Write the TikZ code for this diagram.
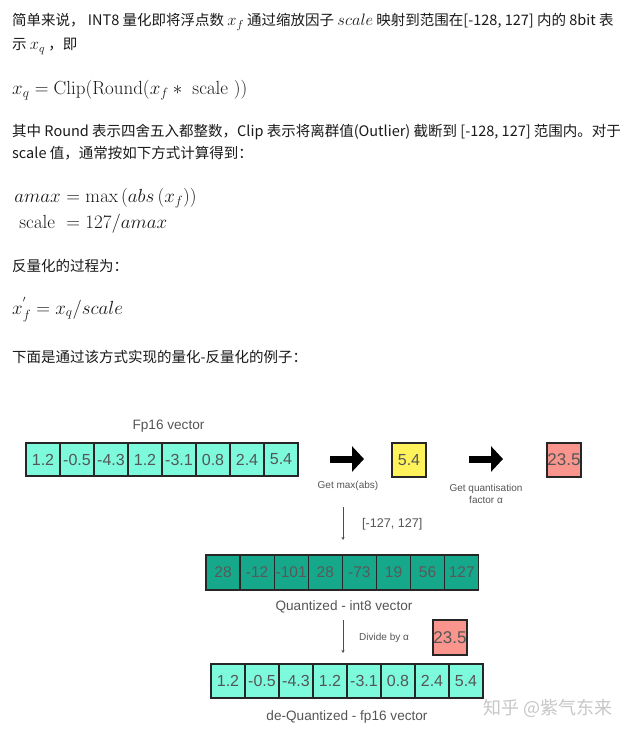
\RequirePackage{fix-cm}
\documentclass[tikz,border=0pt]{standalone}
\usepackage[no-math]{fontspec}
\usepackage{amsmath}
\newfontfamily\cjkfont{Noto Sans CJK SC}
\newfontfamily\helvfont{Liberation Sans}
\usetikzlibrary{arrows.meta}
\definecolor{aqua}{HTML}{7DF9DC}
\definecolor{ylw}{HTML}{FFF25A}
\definecolor{salmon}{HTML}{F9958D}
\definecolor{tealq}{HTML}{16A88A}
\definecolor{lbl}{HTML}{555555}
\definecolor{bodytxt}{HTML}{1A1A1A}
\newcommand\im[1]{{\fontsize{16.5}{20}\selectfont$#1$}}
\begin{document}
\begin{tikzpicture}[x=1pt,y=-1pt,
  body/.style={anchor=base west,inner sep=0pt,text=bodytxt,font=\cjkfont\fontsize{14.5}{17}\selectfont},
  eq/.style={inner sep=0pt,text=bodytxt,font=\fontsize{19}{23}\selectfont},
  cell/.style={draw=black!85,line width=1.1pt,minimum width=34pt,minimum height=33pt,inner sep=0pt,text=lbl,font=\helvfont\fontsize{16}{18}\selectfont},
  lab10/.style={inner sep=0pt,text=lbl,font=\helvfont\fontsize{10}{12}\selectfont},
  lab12/.style={inner sep=0pt,text=lbl,font=\helvfont\fontsize{12.6}{14}\selectfont},
  lab13/.style={inner sep=0pt,text=lbl,font=\helvfont\fontsize{13.6}{16}\selectfont},
  bigarrow/.style={line width=7pt,-{Triangle[length=12pt,width=25pt]}},
  thinarr/.style={draw=black!70,line width=0.8pt,-{Stealth[length=3pt,width=3pt]}}
]
\fill[white] (0,0) rectangle (640,743);
\useasboundingbox (0,0) rectangle (640,743);

% ---- text block ----
\node[body] (l1) at (12,26) {简单来说，\ INT8 量化即将浮点数 \im{x_f} 通过缩放因子 \im{scale} 映射到范围在[-128, 127] 内的 8bit 表};
\node[body] (l2) at (12,50) {示 \im{x_q} ，即};
\node[eq,anchor=base west] (e1) at (12,95) {$x_q=\mathrm{Clip}(\mathrm{Round}(x_f*\ \mathrm{scale}\ ))$};
\node[body] (l3) at (12,137) {其中 Round 表示四舍五入都整数，Clip 表示将离群值(Outlier) 截断到 [-128, 127] 范围内。对于};
\node[body] (l4) at (12,159) {scale 值，通常按如下方式计算得到：};
\node[eq,anchor=base east] (e2l) at (61,203) {$amax$};
\node[eq,anchor=base west] (e2r) at (61,203) {${}=\max\left(abs\left(x_f\right)\right)$};
\node[eq,anchor=base east] (e3l) at (61,228) {$\mathrm{scale}\ $};
\node[eq,anchor=base west] (e3r) at (61,228) {${}=127/amax$};
\node[body] (l5) at (12,271) {反量化的过程为：};
\node[eq,anchor=base west] (e4) at (12,314) {$x^{'}_f=x_q/scale$};
\node[body] (l6) at (12,362) {下面是通过该方式实现的量化-反量化的例子：};

% ---- diagram ----
\node[lab13] (fpl) at (168.5,426) {Fp16 vector};
\foreach \v [count=\i] in {1.2,-0.5,-4.3,1.2,-3.1,0.8,2.4,5.4}
  \node[cell,fill=aqua] (a\i) at ({43+34*(\i-1)},459.5) {\v};

\coordinate (ar1s) at (330,459);
\coordinate (ar1e) at (364,459);
\draw[bigarrow] (ar1s) -- (ar1e);
\node[lab10] (gm) at (348,486) {Get max(abs)};
\node[cell,fill=ylw,minimum height=34pt] (mx) at (409,460) {5.4};

\coordinate (ar2s) at (469,459);
\coordinate (ar2e) at (503,459);
\draw[bigarrow] (ar2s) -- (ar2e);
\node[lab10,align=center] (gq) at (486,494) {Get quantisation\\factor α};
\node[cell,fill=salmon,minimum height=34pt,font=\helvfont\fontsize{17}{19}\selectfont] (al1) at (564,460) {23.5};

\coordinate (v1s) at (343,507);
\coordinate (v1e) at (343,540);
\draw[thinarr] (v1s) -- (v1e);
\node[lab12,anchor=west] (rng) at (362,524) {[-127, 127]};

\foreach \v [count=\i] in {28,-12,-101,28,-73,19,56,127}
  \node[cell,fill=tealq,minimum height=35pt,font=\helvfont\fontsize{15.5}{18}\selectfont,text=black!65] (q\i) at ({223+34.1*(\i-1)},572.5) {\v};
\node[lab13] (ql) at (344,607) {Quantized - int8 vector};

\coordinate (v2s) at (343,620);
\coordinate (v2e) at (343,653);
\draw[thinarr] (v2s) -- (v2e);
\node[lab10,anchor=west] (dv) at (359,638) {Divide by α};
\node[cell,fill=salmon,minimum height=35pt,font=\helvfont\fontsize{17}{19}\selectfont] (al2) at (450,637.5) {23.5};

\foreach \v [count=\i] in {1.2,-0.5,-4.3,1.2,-3.1,0.8,2.4,5.4}
  \node[cell,fill=aqua,minimum height=34pt] (d\i) at ({228+34*(\i-1)},681) {\v};
\node[lab13] (dql) at (347,717) {de-Quantized - fp16 vector};

\node[anchor=west,inner sep=0pt,text=black!22,font=\cjkfont\fontsize{18}{20}\selectfont] (wm) at (483,708) {知乎 @紫气东来};
\end{tikzpicture}
\end{document}
